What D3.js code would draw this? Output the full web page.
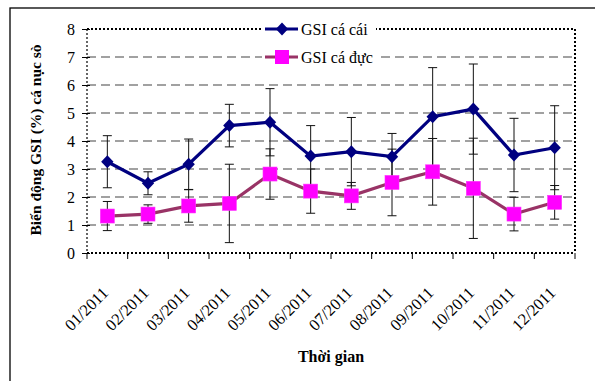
<!DOCTYPE html>
<html><head><meta charset="utf-8">
<script src="https://cdn.jsdelivr.net/npm/d3@7"></script>
<style>
html,body{margin:0;padding:0;background:#fff;overflow:hidden;}
svg text{font-family:"Liberation Serif","Times New Roman",Times,"DejaVu Serif",serif !important;}
</style></head>
<body>
<svg id="c" width="595" height="381"></svg>
<script>
const categories = ["01/2011","02/2011","03/2011","04/2011","05/2011","06/2011","07/2011","08/2011","09/2011","10/2011","11/2011","12/2011"];
const femaleGSI = [3.26, 2.49, 3.17, 4.55, 4.67, 3.46, 3.62, 3.44, 4.87, 5.14, 3.50, 3.76];
const femaleErr = [0.93, 0.41, 0.90, 0.76, 1.20, 1.09, 1.22, 0.83, 1.75, 1.61, 1.31, 1.50];
const maleGSI = [1.32, 1.39, 1.68, 1.77, 2.82, 2.21, 2.04, 2.52, 2.90, 2.31, 1.39, 1.81];
const maleErr = [0.52, 0.33, 0.58, 1.40, 0.90, 0.79, 0.48, 1.19, 1.19, 1.79, 0.60, 0.60];
const yTicks = [0,1,2,3,4,5,6,7,8];
const seriesNames = ["GSI cá cái","GSI cá đực"];
const yTitle = "Biến động GSI (%) cá nục sò";
const xTitle = "Thời gian";

const svg = d3.select("#c");
const L = 87, R = 575, T = 29, B = 253;
const x = d3.scaleBand().domain(categories).range([L, R]);
const y = d3.scaleLinear().domain([0, 8]).range([B, T]);
const cx = d => x(d) + x.bandwidth()/2;

// outer frame
svg.append("rect").attr("x",10).attr("y",8).attr("width",600).attr("height",400)
  .attr("fill","none").attr("stroke","#000").attr("stroke-width",1.3);

// gridlines
svg.append("g").selectAll("line").data(yTicks.filter(t=>t>0 && t<8)).join("line")
  .attr("x1",L).attr("x2",R).attr("y1",d=>y(d)).attr("y2",d=>y(d))
  .attr("stroke","#444").attr("stroke-width",1.2).attr("stroke-dasharray","9,5");

// plot border (dotted)
svg.append("line").attr("x1",L).attr("x2",R).attr("y1",T).attr("y2",T)
  .attr("stroke","#000").attr("stroke-width",2).attr("stroke-dasharray","2,2");
svg.append("line").attr("x1",R).attr("x2",R).attr("y1",T).attr("y2",B)
  .attr("stroke","#000").attr("stroke-width",2).attr("stroke-dasharray","2,2");
svg.append("line").attr("x1",L).attr("x2",R).attr("y1",B).attr("y2",B)
  .attr("stroke","#000").attr("stroke-width",2).attr("stroke-dasharray","2,2");
svg.append("line").attr("x1",L).attr("x2",L).attr("y1",T).attr("y2",B)
  .attr("stroke","#000").attr("stroke-width",1.2).attr("stroke-dasharray","2,2");

// y axis
const yAxis = d3.axisLeft(y).tickValues(yTicks).tickSize(5).tickPadding(7).tickFormat(d3.format("d"));
const gy = svg.append("g").attr("transform",`translate(${L},0)`).call(yAxis);
gy.select(".domain").remove();
gy.selectAll(".tick line").attr("stroke","#000").attr("x2",-5).attr("x1",3);
gy.selectAll(".tick text").attr("font-size",16).attr("fill","#000");

// x axis ticks at boundaries
const bounds = categories.map(c=>x(c)).concat([R]);
svg.append("g").selectAll("line").data(bounds).join("line")
  .attr("x1",d=>d).attr("x2",d=>d).attr("y1",B).attr("y2",B+6)
  .attr("stroke","#000").attr("stroke-width",1);

// x labels
svg.append("g").selectAll("text").data(categories).join("text")
  .attr("transform",d=>`translate(${cx(d)-2},290) rotate(-45)`)
  .attr("text-anchor","end").attr("dominant-baseline","central")
  .attr("font-size",16.5).attr("fill","#000").text(d=>d);

// axis titles
svg.append("text").attr("transform","translate(35,140) rotate(-90)")
  .attr("text-anchor","middle").attr("dominant-baseline","central")
  .attr("font-size",15.5).attr("font-weight","bold").text(yTitle);
svg.append("text").attr("x",(L+R)/2).attr("y",362).attr("text-anchor","middle")
  .attr("font-size",16).attr("font-weight","bold").text(xTitle);

// error bars
function errBars(vals, errs){
  const g = svg.append("g").attr("stroke","#111").attr("stroke-width",1);
  vals.forEach((v,i)=>{
    const c = cx(categories[i]);
    g.append("line").attr("x1",c).attr("x2",c).attr("y1",y(v+errs[i])).attr("y2",y(v-errs[i]));
    [v+errs[i], v-errs[i]].forEach(e=>{
      g.append("line").attr("x1",c-4.5).attr("x2",c+4.5).attr("y1",y(e)).attr("y2",y(e));
    });
  });
}
errBars(femaleGSI, femaleErr);
errBars(maleGSI, maleErr);

const line = d3.line().x((d,i)=>cx(categories[i])).y(d=>y(d));
svg.append("path").datum(maleGSI).attr("d",line).attr("fill","none")
  .attr("stroke","#993366").attr("stroke-width",3.2);
svg.append("path").datum(femaleGSI).attr("d",line).attr("fill","none")
  .attr("stroke","#000080").attr("stroke-width",3.2);

const diamond = (px,py,s=6.5)=>`M${px},${py-s}L${px+s*0.95},${py}L${px},${py+s}L${px-s*0.95},${py}Z`;
svg.append("g").selectAll("rect").data(maleGSI).join("rect")
  .attr("x",(d,i)=>cx(categories[i])-7).attr("y",d=>y(d)-7).attr("width",14).attr("height",14)
  .attr("fill","#ff00ff").attr("stroke","#ff33ff").attr("stroke-width",0.6);
svg.append("g").selectAll("path").data(femaleGSI).join("path")
  .attr("d",(d,i)=>diamond(cx(categories[i]),y(d))).attr("fill","#000080");

// legend
svg.append("rect").attr("x",262).attr("y",18).attr("width",114).attr("height",50).attr("fill","#fff");
const lg = [{y:29,color:"#000080",name:seriesNames[0],shape:"d"},{y:57,color:"#993366",name:seriesNames[1],shape:"s"}];
lg.forEach(e=>{
  svg.append("line").attr("x1",265).attr("x2",298).attr("y1",e.y).attr("y2",e.y)
    .attr("stroke",e.color).attr("stroke-width",3.2);
  if(e.shape==="d") svg.append("path").attr("d",diamond(282,e.y)).attr("fill","#000080");
  else svg.append("rect").attr("x",275).attr("y",e.y-7).attr("width",14).attr("height",14).attr("fill","#ff00ff");
  svg.append("text").attr("x",301).attr("y",e.y).attr("dominant-baseline","central")
    .attr("font-size",16).attr("fill","#000").text(e.name);
});
</script>
</body></html>
